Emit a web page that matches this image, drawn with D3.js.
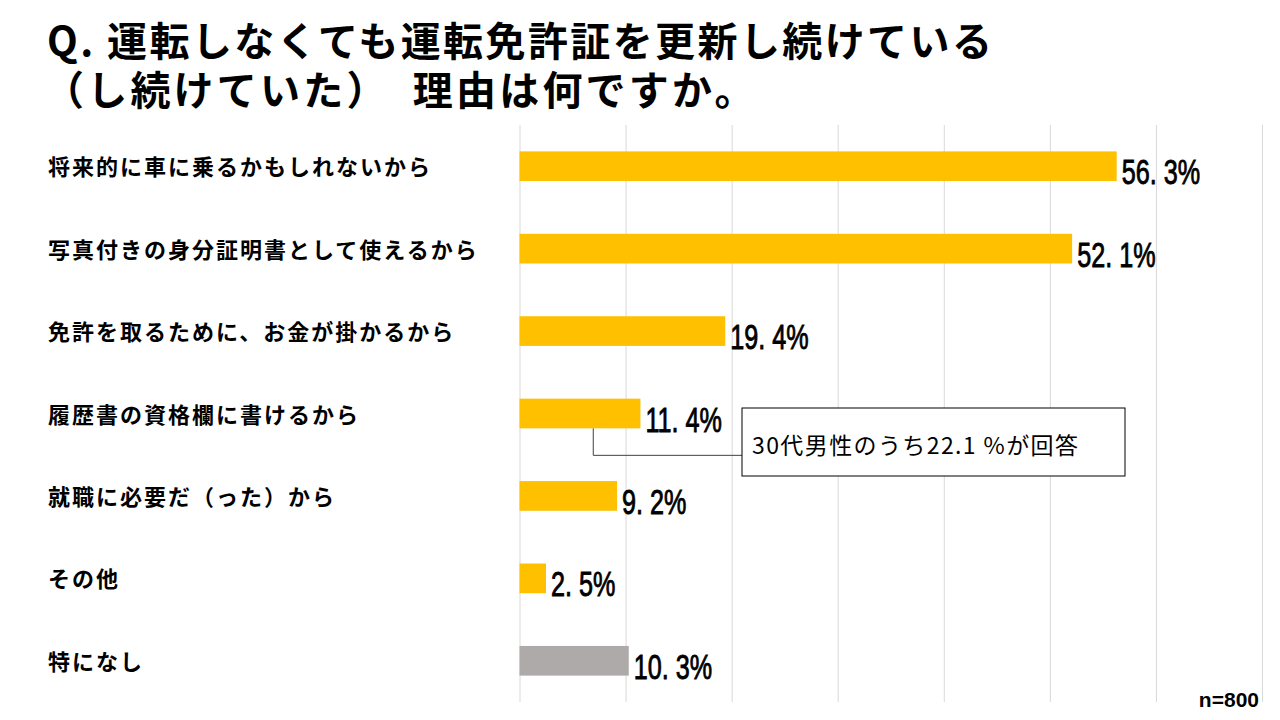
<!DOCTYPE html>
<html><head><meta charset="utf-8">
<script src="https://cdn.jsdelivr.net/npm/d3@7"></script>
<style>
html,body{margin:0;padding:0;background:#fff;}
svg{display:block;}
</style></head>
<body>
<svg id="chart" width="1280" height="720"></svg>
<script>
const titleLines = ["Q. 運転しなくても運転免許証を更新し続けている", "（し続けていた）　理由は何ですか。"];
const categories = [
  "将来的に車に乗るかもしれないから",
  "写真付きの身分証明書として使えるから",
  "免許を取るために、お金が掛かるから",
  "履歴書の資格欄に書けるから",
  "就職に必要だ（った）から",
  "その他",
  "特になし"
];
const values = [56.3, 52.1, 19.4, 11.4, 9.2, 2.5, 10.3];
const xTicks = [0, 10, 20, 30, 40, 50, 60, 70];
const grayCategory = "特になし";
const calloutCategory = "履歴書の資格欄に書けるから";
const calloutText = "30代男性のうち22.1 %が回答";
const sampleNote = "n=800";

const svg = d3.select("#chart");
const jp = "'Noto Sans CJK JP','Noto Sans',sans-serif";
const num = "'Liberation Sans',Arial,sans-serif";

const x = d3.scaleLinear().domain([0, 70]).range([519.5, 1262]);
const y = d3.scaleBand().domain(categories).range([125, 702]).paddingInner(0.64).paddingOuter(0.32);

// title (one text element, two lines)
const title = svg.append("text")
  .attr("font-family", jp).attr("font-weight", "bold")
  .attr("font-size", 40).attr("fill", "#000");
title.selectAll("tspan").data(titleLines).join("tspan")
  .attr("x", (d, i) => i === 0 ? 47 : 44)
  .attr("y", (d, i) => i === 0 ? 56 : 105)
  .attr("letter-spacing", (d, i) => i === 0 ? 2.4 : 3.2)
  .text(d => d);

// gridlines
const grid = svg.append("g").attr("transform", "translate(0,125)")
  .call(d3.axisTop(x).tickValues(xTicks).tickSize(-(702 - 125)).tickFormat(""));
grid.select(".domain").remove();
grid.selectAll(".tick line").attr("stroke", "#d9d9d9").attr("stroke-width", 1);

// category labels
svg.append("g").selectAll("text").data(categories).join("text")
  .attr("x", 48)
  .attr("y", d => y(d) + y.bandwidth() / 2 - 1)
  .attr("dominant-baseline", "central")
  .attr("font-family", jp).attr("font-weight", "bold")
  .attr("font-size", 22).attr("letter-spacing", 2)
  .attr("fill", "#000").text(d => d);

// bars
svg.append("g").selectAll("rect").data(categories).join("rect")
  .attr("x", x(0))
  .attr("y", d => y(d))
  .attr("width", (d, i) => x(values[i]) - x(0))
  .attr("height", y.bandwidth())
  .attr("fill", d => d === grayCategory ? "#aeaaaa" : "#ffc000");

// value labels
svg.append("g").selectAll("text").data(categories).join("text")
  .attr("transform", (d, i) => `translate(${x(values[i]) + 5},${y(d) + y.bandwidth() / 2 + 18}) scale(0.7,1)`)
  .attr("font-family", num).attr("font-size", 36)
  .attr("fill", "#000").attr("stroke", "#000").attr("stroke-width", 0.9)
  .text((d, i) => values[i].toFixed(1).replace(".", ". ") + "%");

// callout
const ci = categories.indexOf(calloutCategory);
const cy = y(calloutCategory) + y.bandwidth();
const lx = x(0) + (x(values[ci]) - x(0)) * 0.61;
const boxX = 742, boxY = 408, boxW = 383, boxH = 68;
svg.append("path")
  .attr("d", `M${lx},${cy}V${cy + 27}H${boxX}`)
  .attr("fill", "none").attr("stroke", "#404040").attr("stroke-width", 1);
svg.append("rect").attr("x", boxX).attr("y", boxY).attr("width", boxW).attr("height", boxH)
  .attr("fill", "#fff").attr("stroke", "#000").attr("stroke-width", 1);
svg.append("text").attr("x", boxX + 10).attr("y", boxY + 36)
  .attr("dominant-baseline", "central")
  .attr("font-family", jp).attr("font-size", 23).attr("letter-spacing", 1.4)
  .attr("fill", "#000").text(calloutText);

// n note
svg.append("text").attr("x", 1259).attr("y", 707).attr("text-anchor", "end")
  .attr("font-family", num).attr("font-weight", "bold").attr("font-size", 21)
  .attr("fill", "#000").text(sampleNote);
</script>
</body></html>
